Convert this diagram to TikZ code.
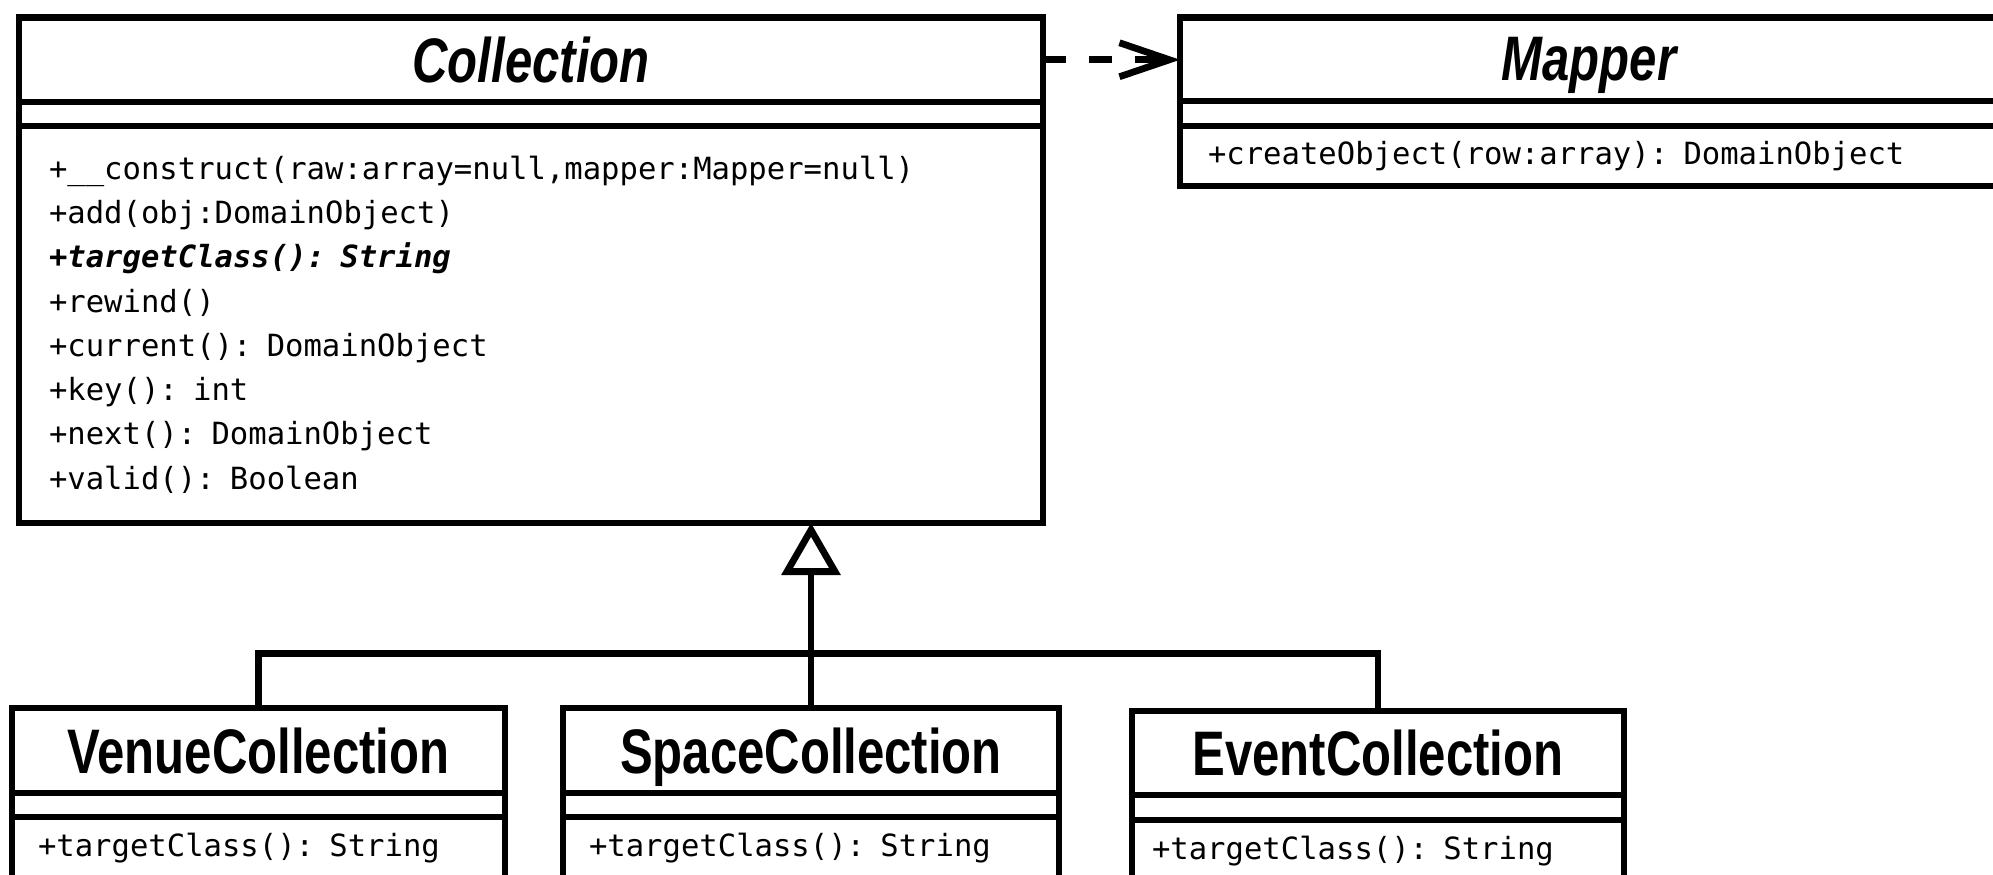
\documentclass[tikz,border=0pt]{standalone}
\usepackage{fontspec}
\setmonofont{DejaVu Sans Mono}
\newfontfamily\classfont[FakeStretch=0.78]{Liberation Sans}
\usetikzlibrary{positioning,arrows.meta}

\begin{document}
\begin{tikzpicture}[
  node distance=0pt,
  line width=0.068cm,
  classname/.style={draw, outer sep=0pt, inner sep=0pt, text depth=0pt, font=\classfont\bfseries\fontsize{17.9}{20}\selectfont},
  attrs/.style={draw, outer sep=0pt, inner sep=0pt},
  methods/.style={draw, outer sep=0pt, inner ysep=0pt, inner xsep=0.26cm, align=left, font=\ttfamily\fontsize{8.7}{12.6}\selectfont},
  inherit/.style={-{Triangle[open, length=0.52cm, width=0.58cm]}},
  depends/.style={dash pattern=on 0.23cm off 0.23cm, -{Straight Barb[length=0.5cm, width=0.34cm]}}
  ]

  \path[use as bounding box, fill=white] (0,0) rectangle (19.93,-8.74);

  % Define nodes
  \node[classname, minimum width=10.24cm, minimum height=0.845cm] (collname) at (5.31,-0.5975) {\itshape Collection};
  \node[attrs, minimum width=10.24cm, minimum height=0.24cm, below=of collname] (collattr) {};
  \node[methods, inner xsep=0.3cm, text width=9.64cm, minimum height=3.97cm, below=of collattr] (collops) {
    +\_\_construct(raw:array=null,mapper:Mapper=null)\\
    +add(obj:DomainObject)\\
    {\bfseries\itshape +targetClass(): String}\\
    +rewind()\\
    +current(): DomainObject\\
    +key(): int\\
    +next(): DomainObject\\
    +valid(): Boolean};

  \node[classname, minimum width=8.18cm, minimum height=0.835cm] (mapname) at (15.89,-0.5925) {\itshape Mapper};
  \node[attrs, minimum width=8.18cm, minimum height=0.25cm, below=of mapname] (mapattr) {};
  \node[methods, inner xsep=0.28cm, text width=7.62cm, minimum height=0.60cm, below=of mapattr] (mapops) {+createObject(row:array): DomainObject};

  \node[classname, minimum width=4.93cm, minimum height=0.85cm] (venuename) at (2.585,-7.505) {VenueCollection};
  \node[attrs, minimum width=4.93cm, minimum height=0.24cm, below=of venuename] (venueattr) {};
  \node[methods, text width=4.41cm, minimum height=0.63cm, below=of venueattr] (venueops) {+targetClass(): String};

  \node[classname, minimum width=4.96cm, minimum height=0.85cm] (spacename) at (8.11,-7.505) {SpaceCollection};
  \node[attrs, minimum width=4.96cm, minimum height=0.24cm, below=of spacename] (spaceattr) {};
  \node[methods, text width=4.44cm, minimum height=0.63cm, below=of spaceattr] (spaceops) {+targetClass(): String};

  \node[classname, minimum width=4.92cm, minimum height=0.84cm] (eventname) at (13.78,-7.53) {EventCollection};
  \node[attrs, minimum width=4.92cm, minimum height=0.25cm, below=of eventname] (eventattr) {};
  \node[methods, inner xsep=0.2cm, text width=4.52cm, minimum height=0.62cm, below=of eventattr] (eventops) {+targetClass(): String};

  \coordinate (bar) at (8.11,-6.535);

  % Dependency
  \draw[depends] (collname.east) -- (collname.east -| mapname.west);

  % Generalisation
  \draw[inherit] (spacename.north) -- (spacename.north |- collops.south);
  \draw (venuename.north) |- (bar) -| (eventname.north);

\end{tikzpicture}
\end{document}
